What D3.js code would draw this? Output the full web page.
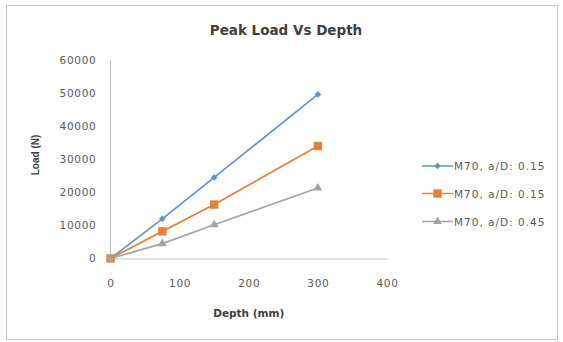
<!DOCTYPE html>
<html>
<head>
<meta charset="utf-8">
<script src="https://cdn.jsdelivr.net/npm/d3@7"></script>
<style>
  html, body { margin: 0; padding: 0; background: #fff; }
  svg { display: block; }
</style>
</head>
<body>
<svg id="chart" width="563" height="342"></svg>
<script>
// Depth (mm) at which peak load was measured
const depths = [0, 75, 150, 300];

// Peak load (N) for each mix
const seriesNames = ["M70, a/D: 0.15", "M70, a/D: 0.15", "M70, a/D: 0.45"];
const loadA = [0, 12000, 24500, 49600];
const loadB = [0, 8200, 16300, 34000];
const loadC = [0, 4500, 10200, 21300];

const xTicks = [0, 100, 200, 300, 400];
const yTicks = [0, 10000, 20000, 30000, 40000, 50000, 60000];

const colors = ["#6592c2", "#e8803a", "#a3a3a3"];
const symbols = [d3.symbolDiamond2, d3.symbolSquare, d3.symbolTriangle];
const symbolSizes = [28, 70, 34];

const series = [loadA, loadB, loadC].map((vals, i) => ({
  name: seriesNames[i],
  points: depths.map((d, j) => ({ x: d, y: vals[j] }))
}));

const svg = d3.select("#chart");

// chart area border
svg.append("rect")
  .attr("x", 6.5).attr("y", 5.5)
  .attr("width", 551).attr("height", 334)
  .attr("fill", "#fff")
  .attr("stroke", "#c8c8c8")
  .attr("stroke-width", 1);

const x = d3.scaleLinear().domain([0, 400]).range([110.5, 387]);
const y = d3.scaleLinear().domain([0, 60000]).range([258.5, 60]);

const labelFont = "DejaVu Sans, sans-serif";
const textColor = "#595959";

// y axis: vertical line plus tick labels
svg.append("line")
  .attr("x1", x(0)).attr("x2", x(0))
  .attr("y1", y(60000)).attr("y2", y(0))
  .attr("stroke", "#c4c4c4");

const yAxis = d3.axisLeft(y).tickValues(yTicks).tickSize(0).tickPadding(14)
  .tickFormat(d3.format("d"));
const gy = svg.append("g").attr("transform", `translate(${x(0)},0)`).call(yAxis);
gy.select(".domain").remove();
gy.selectAll("text")
  .attr("font-family", labelFont)
  .attr("font-size", 10.5)
  .attr("letter-spacing", 0.7)
  .attr("fill", textColor);

// x axis: horizontal line at zero plus tick labels
const xAxis = d3.axisBottom(x).tickValues(xTicks).tickSize(0).tickPadding(21);
const gx = svg.append("g").attr("transform", `translate(0,${y(0)})`).call(xAxis);
gx.select(".domain").attr("stroke", "#c4c4c4");
gx.selectAll("text")
  .attr("font-family", labelFont)
  .attr("font-size", 10.5)
  .attr("letter-spacing", 0.7)
  .attr("fill", textColor);

// series lines and markers
const line = d3.line().x(d => x(d.x)).y(d => y(d.y));

series.forEach((s, i) => {
  svg.append("path")
    .datum(s.points)
    .attr("d", line)
    .attr("fill", "none")
    .attr("stroke", colors[i])
    .attr("stroke-width", 1.7);
});

series.forEach((s, i) => {
  svg.selectAll(null)
    .data(s.points)
    .enter()
    .append("path")
    .attr("d", d3.symbol().type(symbols[i]).size(symbolSizes[i]))
    .attr("transform", d => `translate(${x(d.x)},${y(d.y)})`)
    .attr("fill", colors[i]);
});

// title
svg.append("text")
  .attr("x", 286).attr("y", 35)
  .attr("text-anchor", "middle")
  .attr("font-family", labelFont)
  .attr("font-weight", "bold")
  .attr("font-size", 13.5)
  .attr("fill", "#404040")
  .text("Peak Load Vs Depth");

// axis titles
svg.append("text")
  .attr("x", (x(0) + x(400)) / 2).attr("y", 317)
  .attr("text-anchor", "middle")
  .attr("font-family", labelFont)
  .attr("font-weight", "bold")
  .attr("font-size", 10.5)
  .attr("fill", "#404040")
  .text("Depth (mm)");

svg.append("text")
  .attr("transform", "translate(39,155) rotate(-90)")
  .attr("text-anchor", "middle")
  .attr("font-family", "Liberation Sans, Arial, sans-serif")
  .attr("font-weight", "bold")
  .attr("font-size", 10)
  .attr("fill", "#404040")
  .text("Load (N)");

// legend
const legendY = [166, 193.5, 221.5];
const legend = svg.selectAll(".legend")
  .data(series)
  .enter()
  .append("g")
  .attr("class", "legend")
  .attr("transform", (d, i) => `translate(422,${legendY[i]})`);

legend.append("line")
  .attr("x1", 0).attr("x2", 31)
  .attr("stroke", (d, i) => colors[i])
  .attr("stroke-width", 1.5);

legend.append("path")
  .attr("d", (d, i) => d3.symbol().type(symbols[i]).size(symbolSizes[i])())
  .attr("transform", "translate(15.5,0)")
  .attr("fill", (d, i) => colors[i]);

legend.append("text")
  .attr("x", 32).attr("y", 4)
  .attr("font-family", labelFont)
  .attr("font-size", 10.5)
  .attr("letter-spacing", 1)
  .attr("fill", textColor)
  .text(d => d.name);
</script>
</body>
</html>
